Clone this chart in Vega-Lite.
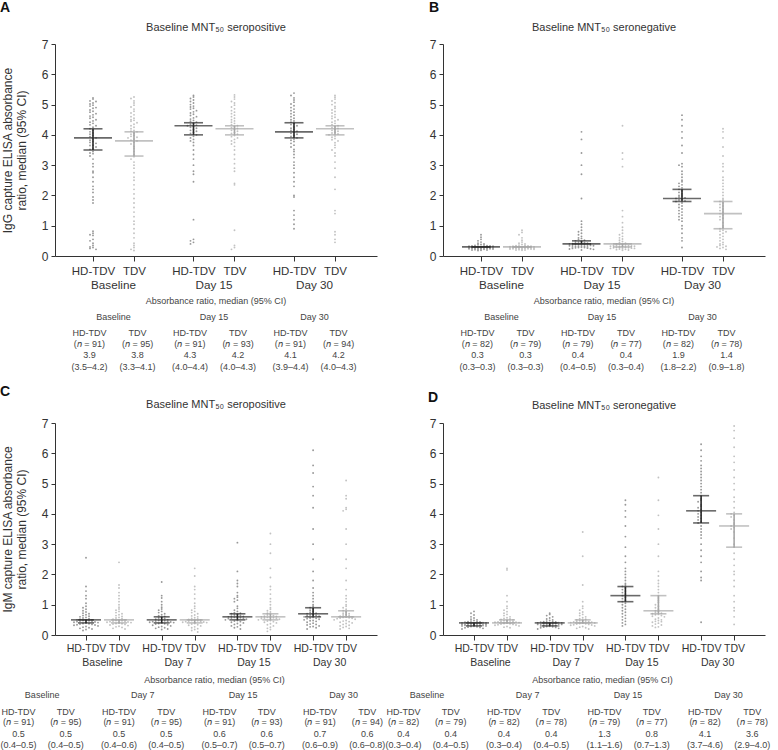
{
"$schema": "https://vega.github.io/schema/vega-lite/v6.json",
"padding": {"left": 0, "top": 1, "right": 0, "bottom": 0},
"config": {
  "font": "Liberation Sans",
  "view": {"stroke": null},
  "axis": {"grid": false, "domainColor": "#333", "tickColor": "#333", "labelColor": "#333", "titleColor": "#333", "labelFontSize": 12, "titleFontSize": 12, "titleFontWeight": "normal", "labelFont": "Liberation Sans", "titleFont": "Liberation Sans"},
  "axisY": {"tickCount": 7, "tickSize": 4, "labelPadding": 3},
  "circle": {"size": 3.5, "opacity": 1},
  "text": {"font": "Liberation Sans", "fontSize": 9, "color": "#444"}
},
"datasets": {
  "pts": [
    {"panel":"A","time":"Baseline","group":"HD-TDV","v":[5.22,5.18,5.12,5.1,5.05,5.02,4.98,4.95,4.9,4.88,4.82,4.78,4.75,4.7,4.66,4.62,4.58,4.55,4.5,4.46,4.42,4.38,4.33,4.3,4.25,4.2,4.15,4.1,4.06,4.02,3.98,3.94,3.9,3.86,3.82,3.78,3.75,3.72,3.66,3.65,3.6,3.55,3.52,3.45,3.4,3.38,3.3,3.2,3.05,2.95,2.8,2.75,2.6,2.45,2.3,2.2,2.1,1.95,1.85,1.75,0.82,0.75,0.7,0.68,0.55,0.5,0.42,0.35,0.3,0.28,0.25,0.22]},
    {"panel":"A","time":"Baseline","group":"TDV","v":[5.25,5.2,5.12,5.05,4.98,4.92,4.85,4.78,4.72,4.66,4.6,4.55,4.5,4.48,4.45,4.4,4.35,4.3,4.25,4.2,4.15,4.12,4.1,4.05,4.02,3.98,3.95,3.92,3.9,3.86,3.82,3.8,3.76,3.7,3.62,3.55,3.45,3.35,3.28,3.2,3.1,3.0,2.9,2.75,2.6,2.5,2.35,2.2,2.05,1.9,1.75,1.6,1.45,1.3,1.15,1.05,0.9,0.75,0.6,0.42,0.35,0.28,0.22,0.18]},
    {"panel":"A","time":"Day 15","group":"HD-TDV","v":[5.3,5.25,5.2,5.15,5.1,5.05,5.0,4.95,4.92,4.88,4.85,4.8,4.76,4.72,4.68,4.64,4.6,4.56,4.52,4.48,4.45,4.42,4.38,4.35,4.32,4.3,4.28,4.25,4.22,4.18,4.15,4.12,4.08,4.05,4.0,3.95,3.9,3.85,3.8,3.75,3.65,3.5,3.35,3.2,3.0,2.8,2.7,2.45,1.2,0.55,0.5,0.45,0.4]},
    {"panel":"A","time":"Day 15","group":"TDV","v":[5.32,5.25,5.18,5.1,5.05,4.98,4.92,4.86,4.8,4.75,4.7,4.65,4.6,4.55,4.5,4.46,4.42,4.38,4.34,4.3,4.27,4.24,4.21,4.18,4.15,4.12,4.08,4.05,4.02,3.98,3.94,3.9,3.85,3.8,3.75,3.7,3.62,3.5,3.35,3.2,3.05,2.9,2.8,2.4,2.35,0.85,0.35,0.28,0.22]},
    {"panel":"A","time":"Day 30","group":"HD-TDV","v":[5.38,5.3,5.22,5.15,5.08,5.02,4.96,4.9,4.85,4.8,4.75,4.7,4.65,4.6,4.55,4.5,4.46,4.42,4.38,4.34,4.3,4.26,4.22,4.18,4.15,4.12,4.08,4.05,4.02,3.98,3.95,3.9,3.86,3.82,3.78,3.72,3.66,3.6,3.52,3.45,3.35,3.25,3.1,3.0,2.9,2.75,2.6,2.45,2.3,2.0,1.95,1.5,1.35,1.2,1.05,0.9]},
    {"panel":"A","time":"Day 30","group":"TDV","v":[5.3,5.24,5.18,5.12,5.06,5.0,4.94,4.88,4.82,4.77,4.72,4.67,4.62,4.58,4.54,4.5,4.46,4.42,4.38,4.34,4.3,4.27,4.24,4.21,4.18,4.15,4.12,4.09,4.06,4.03,4.0,3.96,3.92,3.88,3.84,3.8,3.74,3.66,3.58,3.5,3.4,3.3,3.1,2.9,2.6,2.2,1.5,1.4,0.8,0.7,0.55,0.45]},
    {"panel":"B","time":"Baseline","group":"HD-TDV","v":[0.7,0.62,0.55,0.5,0.46,0.42,0.4,0.38,0.37,0.36,0.35,0.34,0.33,0.33,0.32,0.32,0.31,0.31,0.3,0.3,0.3,0.29,0.29,0.29,0.28,0.28,0.28,0.27,0.27,0.27,0.26,0.26,0.26,0.25,0.25,0.25,0.24,0.24,0.23,0.23,0.22,0.22,0.21,0.2,0.2,0.19,0.18]},
    {"panel":"B","time":"Baseline","group":"TDV","v":[0.85,0.78,0.7,0.6,0.52,0.46,0.42,0.4,0.38,0.36,0.35,0.34,0.33,0.32,0.32,0.31,0.3,0.3,0.3,0.29,0.29,0.28,0.28,0.28,0.27,0.27,0.27,0.26,0.26,0.25,0.25,0.25,0.24,0.24,0.23,0.23,0.22,0.22,0.21,0.2,0.2,0.19]},
    {"panel":"B","time":"Day 15","group":"HD-TDV","v":[4.1,3.85,3.4,3.0,2.7,1.9,1.15,1.05,0.95,0.85,0.8,0.75,0.7,0.65,0.6,0.58,0.55,0.52,0.5,0.48,0.46,0.44,0.43,0.42,0.41,0.4,0.4,0.39,0.38,0.38,0.37,0.36,0.36,0.35,0.34,0.34,0.33,0.32,0.32,0.31,0.3,0.3,0.29,0.28,0.28,0.27,0.26,0.25,0.24,0.23,0.22,0.2]},
    {"panel":"B","time":"Day 15","group":"TDV","v":[4.3,3.4,3.2,2.95,1.5,1.3,1.1,0.95,0.85,0.75,0.7,0.65,0.6,0.56,0.52,0.48,0.45,0.42,0.4,0.38,0.37,0.36,0.35,0.34,0.34,0.33,0.32,0.32,0.31,0.3,0.3,0.29,0.29,0.28,0.28,0.27,0.27,0.26,0.25,0.25,0.24,0.23,0.22,0.21,0.2,0.19]},
    {"panel":"B","time":"Day 30","group":"HD-TDV","v":[4.65,4.5,4.3,4.1,3.9,3.65,3.4,3.05,3.0,2.95,2.8,2.7,2.6,2.5,2.45,2.4,2.35,2.3,2.25,2.2,2.15,2.1,2.05,2.0,1.98,1.95,1.92,1.9,1.88,1.85,1.82,1.8,1.75,1.7,1.65,1.6,1.55,1.5,1.45,1.4,1.35,1.3,1.25,1.2,1.15,1.0,0.9,0.75,0.6,0.5,0.28]},
    {"panel":"B","time":"Day 30","group":"TDV","v":[4.2,4.1,3.9,3.6,3.3,3.05,2.95,2.8,2.6,2.5,2.4,2.3,2.2,2.1,2.0,1.9,1.85,1.8,1.75,1.7,1.65,1.6,1.55,1.5,1.45,1.4,1.35,1.3,1.25,1.2,1.1,1.0,0.95,0.9,0.85,0.82,0.8,0.75,0.7,0.65,0.6,0.55,0.5,0.45,0.4,0.38,0.35,0.32,0.3,0.28,0.25,0.22]},
    {"panel":"C","time":"Baseline","group":"HD-TDV","v":[2.55,1.6,1.45,1.3,1.2,1.05,0.95,0.9,0.85,0.8,0.76,0.72,0.7,0.67,0.64,0.62,0.6,0.58,0.56,0.54,0.52,0.5,0.5,0.49,0.48,0.47,0.46,0.45,0.44,0.43,0.42,0.41,0.4,0.39,0.38,0.37,0.36,0.35,0.34,0.33,0.32,0.3,0.28,0.26,0.24,0.22,0.2,0.18,0.15]},
    {"panel":"C","time":"Baseline","group":"TDV","v":[2.4,1.65,1.55,1.4,1.3,1.2,1.1,1.0,0.92,0.86,0.82,0.78,0.74,0.7,0.67,0.64,0.61,0.58,0.56,0.54,0.52,0.5,0.49,0.48,0.47,0.46,0.45,0.44,0.43,0.42,0.41,0.4,0.39,0.38,0.37,0.36,0.35,0.33,0.31,0.29,0.27,0.25,0.22,0.2]},
    {"panel":"C","time":"Day 7","group":"HD-TDV","v":[1.75,1.3,1.22,1.1,1.0,0.92,0.86,0.82,0.78,0.74,0.7,0.67,0.64,0.61,0.58,0.56,0.54,0.52,0.5,0.49,0.48,0.47,0.46,0.45,0.44,0.43,0.42,0.41,0.4,0.39,0.38,0.37,0.36,0.34,0.32,0.3,0.28,0.26,0.24,0.22,0.2,0.18]},
    {"panel":"C","time":"Day 7","group":"TDV","v":[2.2,1.95,1.6,1.5,1.35,1.2,1.05,0.95,0.88,0.82,0.78,0.74,0.7,0.66,0.63,0.6,0.57,0.55,0.53,0.51,0.5,0.49,0.48,0.47,0.46,0.45,0.44,0.43,0.42,0.41,0.4,0.38,0.36,0.34,0.32,0.3,0.27,0.24,0.21,0.18,0.15,0.1]},
    {"panel":"C","time":"Day 15","group":"HD-TDV","v":[3.05,2.1,1.8,1.7,1.6,1.4,1.3,1.25,1.2,1.15,1.1,0.95,0.88,0.82,0.78,0.74,0.72,0.7,0.68,0.66,0.64,0.62,0.61,0.6,0.59,0.58,0.57,0.56,0.55,0.54,0.52,0.5,0.48,0.46,0.44,0.42,0.4,0.38,0.35,0.32,0.3,0.27,0.24,0.2]},
    {"panel":"C","time":"Day 15","group":"TDV","v":[3.35,3.0,2.7,2.2,1.9,1.6,1.5,1.35,1.2,1.1,1.0,0.9,0.85,0.8,0.76,0.72,0.69,0.66,0.64,0.62,0.61,0.6,0.59,0.58,0.57,0.56,0.55,0.54,0.52,0.5,0.48,0.46,0.44,0.42,0.4,0.37,0.34,0.3,0.26,0.22,0.18,0.12]},
    {"panel":"C","time":"Day 30","group":"HD-TDV","v":[6.1,5.6,5.35,4.9,4.6,4.2,3.5,3.0,2.5,2.1,1.8,1.55,1.4,1.3,1.2,1.1,1.0,0.95,0.9,0.86,0.82,0.78,0.75,0.72,0.7,0.68,0.66,0.65,0.64,0.62,0.6,0.58,0.56,0.55,0.54,0.52,0.5,0.48,0.47,0.45,0.42,0.39,0.36,0.35,0.33,0.3,0.28,0.27,0.24,0.2]},
    {"panel":"C","time":"Day 30","group":"TDV","v":[5.1,4.6,4.5,4.2,4.15,4.1,3.5,3.0,2.5,2.2,1.8,1.5,1.3,1.2,1.1,1.0,0.95,0.9,0.85,0.8,0.76,0.72,0.7,0.68,0.66,0.64,0.62,0.6,0.59,0.58,0.57,0.56,0.55,0.54,0.52,0.5,0.48,0.46,0.44,0.42,0.4,0.38,0.35,0.32,0.3,0.28,0.25,0.22,0.2]},
    {"panel":"D","time":"Baseline","group":"HD-TDV","v":[0.78,0.72,0.66,0.6,0.56,0.52,0.5,0.48,0.46,0.45,0.44,0.43,0.42,0.41,0.4,0.4,0.39,0.38,0.38,0.37,0.37,0.36,0.36,0.35,0.35,0.34,0.34,0.33,0.33,0.32,0.32,0.31,0.3,0.3,0.29,0.28,0.27,0.26,0.25,0.24,0.22,0.2]},
    {"panel":"D","time":"Baseline","group":"TDV","v":[2.2,2.15,1.3,1.1,0.95,0.88,0.82,0.77,0.72,0.68,0.64,0.6,0.57,0.55,0.53,0.51,0.5,0.48,0.47,0.46,0.45,0.44,0.43,0.42,0.42,0.41,0.4,0.4,0.39,0.38,0.37,0.36,0.35,0.34,0.33,0.32,0.3,0.28,0.26,0.24]},
    {"panel":"D","time":"Day 7","group":"HD-TDV","v":[0.72,0.68,0.64,0.6,0.56,0.53,0.5,0.48,0.46,0.45,0.44,0.43,0.42,0.41,0.4,0.4,0.39,0.38,0.38,0.37,0.37,0.36,0.36,0.35,0.35,0.34,0.34,0.33,0.32,0.31,0.3,0.3,0.29,0.28,0.27,0.26,0.25,0.24,0.22,0.2]},
    {"panel":"D","time":"Day 7","group":"TDV","v":[3.4,2.6,1.65,1.1,0.95,0.88,0.82,0.76,0.72,0.68,0.64,0.6,0.57,0.54,0.52,0.5,0.48,0.47,0.46,0.45,0.44,0.43,0.42,0.41,0.4,0.4,0.39,0.38,0.37,0.36,0.35,0.34,0.33,0.32,0.3,0.28,0.26,0.24,0.22,0.2]},
    {"panel":"D","time":"Day 15","group":"HD-TDV","v":[4.45,4.3,4.1,3.9,3.6,3.25,2.9,2.6,2.4,2.2,2.1,2.0,1.9,1.8,1.7,1.65,1.6,1.55,1.5,1.45,1.4,1.35,1.3,1.25,1.2,1.15,1.1,1.05,1.0,0.95,0.9,0.85,0.8,0.75,0.7,0.65,0.6,0.55,0.5,0.45,0.4,0.35,0.3]},
    {"panel":"D","time":"Day 15","group":"TDV","v":[5.2,4.45,3.95,3.5,3.0,2.6,2.1,1.95,1.8,1.7,1.6,1.5,1.4,1.3,1.22,1.15,1.08,1.0,0.95,0.9,0.85,0.8,0.78,0.75,0.72,0.7,0.68,0.67,0.64,0.62,0.6,0.56,0.52,0.5,0.48,0.45,0.44,0.42,0.39,0.36,0.33,0.3,0.27,0.25]},
    {"panel":"D","time":"Day 30","group":"HD-TDV","v":[6.3,6.1,5.9,5.75,5.6,5.5,5.4,5.3,5.2,5.1,5.0,4.9,4.8,4.7,4.6,4.5,4.45,4.4,4.3,4.25,4.2,4.15,4.1,4.05,4.0,3.95,3.9,3.85,3.8,3.75,3.7,3.6,3.5,3.4,3.3,3.2,3.0,2.8,2.6,2.4,2.1,1.9,1.8,0.42]},
    {"panel":"D","time":"Day 30","group":"TDV","v":[6.9,6.75,6.5,6.2,5.9,5.7,5.45,5.2,5.0,4.8,4.55,4.4,4.2,4.05,4.0,3.95,3.9,3.8,3.7,3.65,3.6,3.55,3.5,3.4,3.2,3.0,2.9,2.7,2.5,2.3,2.1,2.0,1.8,1.6,1.3,1.1,0.9,0.8,0.6,0.35]}
  ],
  "sum": [
    {"panel":"A","time":"Baseline","group":"HD-TDV","n":91,"med":3.9,"lo":3.5,"hi":4.2},
    {"panel":"A","time":"Baseline","group":"TDV","n":95,"med":3.8,"lo":3.3,"hi":4.1},
    {"panel":"A","time":"Day 15","group":"HD-TDV","n":91,"med":4.3,"lo":4.0,"hi":4.4},
    {"panel":"A","time":"Day 15","group":"TDV","n":93,"med":4.2,"lo":4.0,"hi":4.3},
    {"panel":"A","time":"Day 30","group":"HD-TDV","n":91,"med":4.1,"lo":3.9,"hi":4.4},
    {"panel":"A","time":"Day 30","group":"TDV","n":94,"med":4.2,"lo":4.0,"hi":4.3},
    {"panel":"B","time":"Baseline","group":"HD-TDV","n":82,"med":0.3,"lo":0.3,"hi":0.3},
    {"panel":"B","time":"Baseline","group":"TDV","n":79,"med":0.3,"lo":0.3,"hi":0.3},
    {"panel":"B","time":"Day 15","group":"HD-TDV","n":79,"med":0.4,"lo":0.4,"hi":0.5},
    {"panel":"B","time":"Day 15","group":"TDV","n":77,"med":0.4,"lo":0.3,"hi":0.4},
    {"panel":"B","time":"Day 30","group":"HD-TDV","n":82,"med":1.9,"lo":1.8,"hi":2.2},
    {"panel":"B","time":"Day 30","group":"TDV","n":78,"med":1.4,"lo":0.9,"hi":1.8},
    {"panel":"C","time":"Baseline","group":"HD-TDV","n":91,"med":0.5,"lo":0.4,"hi":0.5},
    {"panel":"C","time":"Baseline","group":"TDV","n":95,"med":0.5,"lo":0.4,"hi":0.5},
    {"panel":"C","time":"Day 7","group":"HD-TDV","n":91,"med":0.5,"lo":0.4,"hi":0.6},
    {"panel":"C","time":"Day 7","group":"TDV","n":95,"med":0.5,"lo":0.4,"hi":0.5},
    {"panel":"C","time":"Day 15","group":"HD-TDV","n":91,"med":0.6,"lo":0.5,"hi":0.7},
    {"panel":"C","time":"Day 15","group":"TDV","n":93,"med":0.6,"lo":0.5,"hi":0.7},
    {"panel":"C","time":"Day 30","group":"HD-TDV","n":91,"med":0.7,"lo":0.6,"hi":0.9},
    {"panel":"C","time":"Day 30","group":"TDV","n":94,"med":0.6,"lo":0.6,"hi":0.8},
    {"panel":"D","time":"Baseline","group":"HD-TDV","n":82,"med":0.4,"lo":0.3,"hi":0.4},
    {"panel":"D","time":"Baseline","group":"TDV","n":79,"med":0.4,"lo":0.4,"hi":0.5},
    {"panel":"D","time":"Day 7","group":"HD-TDV","n":82,"med":0.4,"lo":0.3,"hi":0.4},
    {"panel":"D","time":"Day 7","group":"TDV","n":78,"med":0.4,"lo":0.4,"hi":0.5},
    {"panel":"D","time":"Day 15","group":"HD-TDV","n":79,"med":1.3,"lo":1.1,"hi":1.6},
    {"panel":"D","time":"Day 15","group":"TDV","n":77,"med":0.8,"lo":0.7,"hi":1.3},
    {"panel":"D","time":"Day 30","group":"HD-TDV","n":82,"med":4.1,"lo":3.7,"hi":4.6},
    {"panel":"D","time":"Day 30","group":"TDV","n":78,"med":3.6,"lo":2.9,"hi":4.0}
  ],
  "labels": [
    {"panel":"A","letter":"A","title":"Baseline MNT₅₀ seropositive"},
    {"panel":"B","letter":"B","title":"Baseline MNT₅₀ seronegative"},
    {"panel":"C","letter":"C","title":"Baseline MNT₅₀ seropositive"},
    {"panel":"D","letter":"D","title":"Baseline MNT₅₀ seronegative"}
  ]
},
"data": {"name": "pts"},
"transform": [
  {"flatten": ["v"]},
  {"calculate": "datum.panel == 'A' || datum.panel == 'B'", "as": "ab"},
  {"calculate": "indexof(datum.ab ? ['Baseline','Day 15','Day 30'] : ['Baseline','Day 7','Day 15','Day 30'], datum.time)", "as": "t"},
  {"calculate": "datum.ab ? 100.5 : 75.7", "as": "u"},
  {"calculate": "datum.ab ? 0.204 : 0.218", "as": "h"},
  {"calculate": "floor(datum.v * 10)", "as": "b"},
  {"window": [{"op": "row_number", "as": "rn"}], "groupby": ["panel", "time", "group", "b"], "sort": [{"field": "v", "order": "descending"}]},
  {"calculate": "(datum.rn - 1) % 9", "as": "j"},
  {"calculate": "datum.t + (datum.group == 'HD-TDV' ? -datum.h : datum.h) + (datum.j % 2 == 1 ? -1 : 1) * ceil(datum.j / 2) * 3 / datum.u", "as": "pos"}
],
"columns": 2,
"bounds": "flush",
"spacing": {"row": 0, "column": 66},
"concat": [
  {
    "width": 322, "height": 212,
    "layer": [
      {"transform": [{"filter": "datum.panel == 'A'"}],
       "mark": {"type": "circle"},
       "encoding": {
         "x": {"field": "pos", "type": "quantitative", "title": null, "scale": {"domain": [-0.582, 2.622], "nice": false, "zero": false},
               "axis": {"values": [-0.204, 0.204, 0.796, 1.204, 1.796, 2.204], "labelExpr": "datum.value - round(datum.value) < 0 ? 'HD-TDV' : 'TDV'", "labelFontSize": 11.5, "tickSize": 5, "labelPadding": 4, "labelOverlap": false, "labelFlush": false, "labelBound": false}},
         "y": {"field": "v", "type": "quantitative", "title": ["IgG capture ELISA absorbance", "ratio, median (95% CI)"], "scale": {"domain": [0, 7], "nice": false},
               "axis": {"titlePadding": 13}},
         "color": {"condition": {"test": "datum.group == 'HD-TDV'", "value": "#989898"}, "value": "#c2c2c2"}
       }},
      {"data": {"name": "sum"},
       "transform": [{"filter": "datum.panel == 'A'"}, {"calculate": "indexof(['Baseline','Day 15','Day 30'], datum.time) + (datum.group == 'HD-TDV' ? -0.204 : 0.204)", "as": "pos"}],
       "encoding": {"x": {"field": "pos", "type": "quantitative"},
                    "color": {"condition": {"test": "datum.group == 'HD-TDV'", "value": "#2a2a2a"}, "value": "#a6a6a6"}},
       "layer": [
         {"mark": {"type": "rule", "strokeWidth": 1.6}, "encoding": {"y": {"field": "lo", "type": "quantitative"}, "y2": {"field": "hi"}}},
         {"mark": {"type": "tick", "orient": "horizontal", "size": 38, "thickness": 1.6}, "encoding": {"y": {"field": "med", "type": "quantitative"}}},
         {"mark": {"type": "tick", "orient": "horizontal", "size": 19, "thickness": 1.6}, "encoding": {"y": {"field": "lo", "type": "quantitative"}}},
         {"mark": {"type": "tick", "orient": "horizontal", "size": 19, "thickness": 1.6}, "encoding": {"y": {"field": "hi", "type": "quantitative"}}}
       ]},
      {"data": {"name": "labels"}, "transform": [{"filter": "datum.panel == 'A'"}],
       "layer": [
         {"mark": {"type": "text", "align": "left", "baseline": "middle", "dx": -55, "dy": -36, "fontSize": 14, "fontWeight": "bold", "color": "#111"},
          "encoding": {"x": {"datum": -0.582, "type": "quantitative"}, "y": {"datum": 7, "type": "quantitative"}, "text": {"field": "letter"}}},
         {"mark": {"type": "text", "align": "center", "baseline": "middle", "dy": -16, "fontSize": 11, "color": "#333"},
          "encoding": {"x": {"datum": 1.02, "type": "quantitative"}, "y": {"datum": 7, "type": "quantitative"}, "text": {"field": "title"}}}
       ]}
    ]
  },
  {
    "width": 322, "height": 212,
    "layer": [
      {"transform": [{"filter": "datum.panel == 'B'"}],
       "mark": {"type": "circle"},
       "encoding": {
         "x": {"field": "pos", "type": "quantitative", "title": null, "scale": {"domain": [-0.582, 2.622], "nice": false, "zero": false},
               "axis": {"values": [-0.204, 0.204, 0.796, 1.204, 1.796, 2.204], "labelExpr": "datum.value - round(datum.value) < 0 ? 'HD-TDV' : 'TDV'", "labelFontSize": 11.5, "tickSize": 5, "labelPadding": 4, "labelOverlap": false, "labelFlush": false, "labelBound": false}},
         "y": {"field": "v", "type": "quantitative", "title": null, "scale": {"domain": [0, 7], "nice": false}},
         "color": {"condition": {"test": "datum.group == 'HD-TDV'", "value": "#989898"}, "value": "#c2c2c2"}
       }},
      {"data": {"name": "sum"},
       "transform": [{"filter": "datum.panel == 'B'"}, {"calculate": "indexof(['Baseline','Day 15','Day 30'], datum.time) + (datum.group == 'HD-TDV' ? -0.204 : 0.204)", "as": "pos"}],
       "encoding": {"x": {"field": "pos", "type": "quantitative"},
                    "color": {"condition": {"test": "datum.group == 'HD-TDV'", "value": "#2a2a2a"}, "value": "#a6a6a6"}},
       "layer": [
         {"mark": {"type": "rule", "strokeWidth": 1.6}, "encoding": {"y": {"field": "lo", "type": "quantitative"}, "y2": {"field": "hi"}}},
         {"mark": {"type": "tick", "orient": "horizontal", "size": 38, "thickness": 1.6}, "encoding": {"y": {"field": "med", "type": "quantitative"}}},
         {"mark": {"type": "tick", "orient": "horizontal", "size": 19, "thickness": 1.6}, "encoding": {"y": {"field": "lo", "type": "quantitative"}}},
         {"mark": {"type": "tick", "orient": "horizontal", "size": 19, "thickness": 1.6}, "encoding": {"y": {"field": "hi", "type": "quantitative"}}}
       ]},
      {"data": {"name": "labels"}, "transform": [{"filter": "datum.panel == 'B'"}],
       "layer": [
         {"mark": {"type": "text", "align": "left", "baseline": "middle", "dx": -14, "dy": -36, "fontSize": 14, "fontWeight": "bold", "color": "#111"},
          "encoding": {"x": {"datum": -0.582, "type": "quantitative"}, "y": {"datum": 7, "type": "quantitative"}, "text": {"field": "letter"}}},
         {"mark": {"type": "text", "align": "center", "baseline": "middle", "dy": -16, "fontSize": 11, "color": "#333"},
          "encoding": {"x": {"datum": 1.02, "type": "quantitative"}, "y": {"datum": 7, "type": "quantitative"}, "text": {"field": "title"}}}
       ]}
    ]
  },
  {
    "width": 322, "height": 167,
    "data": {"name": "sum"},
    "transform": [
      {"filter": "datum.panel == 'A'"},
      {"calculate": "indexof(['Baseline','Day 15','Day 30'], datum.time)", "as": "t"},
      {"calculate": "datum.t + (datum.group == 'HD-TDV' ? -0.239 : 0.239)", "as": "tp"},
      {"calculate": "'(𝑛 = ' + datum.n + ')'", "as": "nTxt"},
      {"calculate": "format(datum.med, '.1f')", "as": "mTxt"},
      {"calculate": "'(' + format(datum.lo, '.1f') + '–' + format(datum.hi, '.1f') + ')'", "as": "ciTxt"}
    ],
    "layer": [
      {"transform": [{"filter": "datum.group == 'HD-TDV'"}], "mark": {"type": "text", "fontSize": 11.7, "color": "#333"},
       "encoding": {"x": {"field": "t", "type": "quantitative", "scale": {"domain": [-0.582, 2.622], "nice": false, "zero": false}, "axis": null},
                    "y": {"datum": 2.6, "type": "quantitative", "scale": {"domain": [0, 15], "reverse": true, "nice": false, "zero": false}, "axis": null},
                    "text": {"field": "time"}}},
      {"transform": [{"filter": "datum.group == 'HD-TDV' && datum.t == 0"}], "mark": {"type": "text"},
       "encoding": {"x": {"datum": 1.02, "type": "quantitative", "scale": {"domain": [-0.582, 2.622], "nice": false, "zero": false}, "axis": null},
                    "y": {"datum": 4.05, "type": "quantitative", "scale": {"domain": [0, 15], "reverse": true, "nice": false, "zero": false}, "axis": null},
                    "text": {"value": "Absorbance ratio, median  (95% CI)"}}},
      {"transform": [{"filter": "datum.group == 'HD-TDV'"}], "mark": {"type": "text"},
       "encoding": {"x": {"field": "t", "type": "quantitative", "scale": {"domain": [-0.582, 2.622], "nice": false, "zero": false}, "axis": null},
                    "y": {"datum": 5.45, "type": "quantitative", "scale": {"domain": [0, 15], "reverse": true, "nice": false, "zero": false}, "axis": null},
                    "text": {"field": "time"}}},
      {"mark": {"type": "text"},
       "encoding": {"x": {"field": "tp", "type": "quantitative", "scale": {"domain": [-0.582, 2.622], "nice": false, "zero": false}, "axis": null},
                    "y": {"datum": 6.9, "type": "quantitative", "scale": {"domain": [0, 15], "reverse": true, "nice": false, "zero": false}, "axis": null},
                    "text": {"field": "group"}}},
      {"mark": {"type": "text"},
       "encoding": {"x": {"field": "tp", "type": "quantitative", "scale": {"domain": [-0.582, 2.622], "nice": false, "zero": false}, "axis": null},
                    "y": {"datum": 7.9, "type": "quantitative", "scale": {"domain": [0, 15], "reverse": true, "nice": false, "zero": false}, "axis": null},
                    "text": {"field": "nTxt"}}},
      {"mark": {"type": "text"},
       "encoding": {"x": {"field": "tp", "type": "quantitative", "scale": {"domain": [-0.582, 2.622], "nice": false, "zero": false}, "axis": null},
                    "y": {"datum": 8.9, "type": "quantitative", "scale": {"domain": [0, 15], "reverse": true, "nice": false, "zero": false}, "axis": null},
                    "text": {"field": "mTxt"}}},
      {"mark": {"type": "text"},
       "encoding": {"x": {"field": "tp", "type": "quantitative", "scale": {"domain": [-0.582, 2.622], "nice": false, "zero": false}, "axis": null},
                    "y": {"datum": 9.95, "type": "quantitative", "scale": {"domain": [0, 15], "reverse": true, "nice": false, "zero": false}, "axis": null},
                    "text": {"field": "ciTxt"}}}
    ]
  },
  {
    "width": 322, "height": 167,
    "data": {"name": "sum"},
    "transform": [
      {"filter": "datum.panel == 'B'"},
      {"calculate": "indexof(['Baseline','Day 15','Day 30'], datum.time)", "as": "t"},
      {"calculate": "datum.t + (datum.group == 'HD-TDV' ? -0.239 : 0.239)", "as": "tp"},
      {"calculate": "'(𝑛 = ' + datum.n + ')'", "as": "nTxt"},
      {"calculate": "format(datum.med, '.1f')", "as": "mTxt"},
      {"calculate": "'(' + format(datum.lo, '.1f') + '–' + format(datum.hi, '.1f') + ')'", "as": "ciTxt"}
    ],
    "layer": [
      {"transform": [{"filter": "datum.group == 'HD-TDV'"}], "mark": {"type": "text", "fontSize": 11.7, "color": "#333"},
       "encoding": {"x": {"field": "t", "type": "quantitative", "scale": {"domain": [-0.582, 2.622], "nice": false, "zero": false}, "axis": null},
                    "y": {"datum": 2.6, "type": "quantitative", "scale": {"domain": [0, 15], "reverse": true, "nice": false, "zero": false}, "axis": null},
                    "text": {"field": "time"}}},
      {"transform": [{"filter": "datum.group == 'HD-TDV' && datum.t == 0"}], "mark": {"type": "text"},
       "encoding": {"x": {"datum": 1.02, "type": "quantitative", "scale": {"domain": [-0.582, 2.622], "nice": false, "zero": false}, "axis": null},
                    "y": {"datum": 4.05, "type": "quantitative", "scale": {"domain": [0, 15], "reverse": true, "nice": false, "zero": false}, "axis": null},
                    "text": {"value": "Absorbance ratio, median  (95% CI)"}}},
      {"transform": [{"filter": "datum.group == 'HD-TDV'"}], "mark": {"type": "text"},
       "encoding": {"x": {"field": "t", "type": "quantitative", "scale": {"domain": [-0.582, 2.622], "nice": false, "zero": false}, "axis": null},
                    "y": {"datum": 5.45, "type": "quantitative", "scale": {"domain": [0, 15], "reverse": true, "nice": false, "zero": false}, "axis": null},
                    "text": {"field": "time"}}},
      {"mark": {"type": "text"},
       "encoding": {"x": {"field": "tp", "type": "quantitative", "scale": {"domain": [-0.582, 2.622], "nice": false, "zero": false}, "axis": null},
                    "y": {"datum": 6.9, "type": "quantitative", "scale": {"domain": [0, 15], "reverse": true, "nice": false, "zero": false}, "axis": null},
                    "text": {"field": "group"}}},
      {"mark": {"type": "text"},
       "encoding": {"x": {"field": "tp", "type": "quantitative", "scale": {"domain": [-0.582, 2.622], "nice": false, "zero": false}, "axis": null},
                    "y": {"datum": 7.9, "type": "quantitative", "scale": {"domain": [0, 15], "reverse": true, "nice": false, "zero": false}, "axis": null},
                    "text": {"field": "nTxt"}}},
      {"mark": {"type": "text"},
       "encoding": {"x": {"field": "tp", "type": "quantitative", "scale": {"domain": [-0.582, 2.622], "nice": false, "zero": false}, "axis": null},
                    "y": {"datum": 8.9, "type": "quantitative", "scale": {"domain": [0, 15], "reverse": true, "nice": false, "zero": false}, "axis": null},
                    "text": {"field": "mTxt"}}},
      {"mark": {"type": "text"},
       "encoding": {"x": {"field": "tp", "type": "quantitative", "scale": {"domain": [-0.582, 2.622], "nice": false, "zero": false}, "axis": null},
                    "y": {"datum": 9.95, "type": "quantitative", "scale": {"domain": [0, 15], "reverse": true, "nice": false, "zero": false}, "axis": null},
                    "text": {"field": "ciTxt"}}}
    ]
  },
  {
    "width": 322, "height": 212,
    "layer": [
      {"transform": [{"filter": "datum.panel == 'C'"}],
       "mark": {"type": "circle"},
       "encoding": {
         "x": {"field": "pos", "type": "quantitative", "title": null, "scale": {"domain": [-0.6275, 3.626], "nice": false, "zero": false},
               "axis": {"values": [-0.218, 0.218, 0.782, 1.218, 1.782, 2.218, 2.782, 3.218], "labelExpr": "datum.value - round(datum.value) < 0 ? 'HD-TDV' : 'TDV'", "labelFontSize": 10.5, "tickSize": 5, "labelPadding": 3, "labelOverlap": false, "labelFlush": false, "labelBound": false}},
         "y": {"field": "v", "type": "quantitative", "title": ["IgM capture ELISA absorbance", "ratio, median (95% CI)"], "scale": {"domain": [0, 7], "nice": false},
               "axis": {"titlePadding": 13}},
         "color": {"condition": {"test": "datum.group == 'HD-TDV'", "value": "#989898"}, "value": "#c2c2c2"}
       }},
      {"data": {"name": "sum"},
       "transform": [{"filter": "datum.panel == 'C'"}, {"calculate": "indexof(['Baseline','Day 7','Day 15','Day 30'], datum.time) + (datum.group == 'HD-TDV' ? -0.218 : 0.218)", "as": "pos"}],
       "encoding": {"x": {"field": "pos", "type": "quantitative"},
                    "color": {"condition": {"test": "datum.group == 'HD-TDV'", "value": "#2a2a2a"}, "value": "#a6a6a6"}},
       "layer": [
         {"mark": {"type": "rule", "strokeWidth": 1.6}, "encoding": {"y": {"field": "lo", "type": "quantitative"}, "y2": {"field": "hi"}}},
         {"mark": {"type": "tick", "orient": "horizontal", "size": 30, "thickness": 1.6}, "encoding": {"y": {"field": "med", "type": "quantitative"}}},
         {"mark": {"type": "tick", "orient": "horizontal", "size": 16, "thickness": 1.6}, "encoding": {"y": {"field": "lo", "type": "quantitative"}}},
         {"mark": {"type": "tick", "orient": "horizontal", "size": 16, "thickness": 1.6}, "encoding": {"y": {"field": "hi", "type": "quantitative"}}}
       ]},
      {"data": {"name": "labels"}, "transform": [{"filter": "datum.panel == 'C'"}],
       "layer": [
         {"mark": {"type": "text", "align": "left", "baseline": "middle", "dx": -55, "dy": -31, "fontSize": 14, "fontWeight": "bold", "color": "#111"},
          "encoding": {"x": {"datum": -0.6275, "type": "quantitative"}, "y": {"datum": 7, "type": "quantitative"}, "text": {"field": "letter"}}},
         {"mark": {"type": "text", "align": "center", "baseline": "middle", "dy": -18, "fontSize": 11, "color": "#333"},
          "encoding": {"x": {"datum": 1.499, "type": "quantitative"}, "y": {"datum": 7, "type": "quantitative"}, "text": {"field": "title"}}}
       ]}
    ]
  },
  {
    "width": 322, "height": 212,
    "layer": [
      {"transform": [{"filter": "datum.panel == 'D'"}],
       "mark": {"type": "circle"},
       "encoding": {
         "x": {"field": "pos", "type": "quantitative", "title": null, "scale": {"domain": [-0.6275, 3.626], "nice": false, "zero": false},
               "axis": {"values": [-0.218, 0.218, 0.782, 1.218, 1.782, 2.218, 2.782, 3.218], "labelExpr": "datum.value - round(datum.value) < 0 ? 'HD-TDV' : 'TDV'", "labelFontSize": 10.5, "tickSize": 5, "labelPadding": 3, "labelOverlap": false, "labelFlush": false, "labelBound": false}},
         "y": {"field": "v", "type": "quantitative", "title": null, "scale": {"domain": [0, 7], "nice": false}},
         "color": {"condition": {"test": "datum.group == 'HD-TDV'", "value": "#989898"}, "value": "#c2c2c2"}
       }},
      {"data": {"name": "sum"},
       "transform": [{"filter": "datum.panel == 'D'"}, {"calculate": "indexof(['Baseline','Day 7','Day 15','Day 30'], datum.time) + (datum.group == 'HD-TDV' ? -0.218 : 0.218)", "as": "pos"}],
       "encoding": {"x": {"field": "pos", "type": "quantitative"},
                    "color": {"condition": {"test": "datum.group == 'HD-TDV'", "value": "#2a2a2a"}, "value": "#a6a6a6"}},
       "layer": [
         {"mark": {"type": "rule", "strokeWidth": 1.6}, "encoding": {"y": {"field": "lo", "type": "quantitative"}, "y2": {"field": "hi"}}},
         {"mark": {"type": "tick", "orient": "horizontal", "size": 30, "thickness": 1.6}, "encoding": {"y": {"field": "med", "type": "quantitative"}}},
         {"mark": {"type": "tick", "orient": "horizontal", "size": 16, "thickness": 1.6}, "encoding": {"y": {"field": "lo", "type": "quantitative"}}},
         {"mark": {"type": "tick", "orient": "horizontal", "size": 16, "thickness": 1.6}, "encoding": {"y": {"field": "hi", "type": "quantitative"}}}
       ]},
      {"data": {"name": "labels"}, "transform": [{"filter": "datum.panel == 'D'"}],
       "layer": [
         {"mark": {"type": "text", "align": "left", "baseline": "middle", "dx": -15, "dy": -25, "fontSize": 14, "fontWeight": "bold", "color": "#111"},
          "encoding": {"x": {"datum": -0.6275, "type": "quantitative"}, "y": {"datum": 7, "type": "quantitative"}, "text": {"field": "letter"}}},
         {"mark": {"type": "text", "align": "center", "baseline": "middle", "dy": -17, "fontSize": 11, "color": "#333"},
          "encoding": {"x": {"datum": 1.499, "type": "quantitative"}, "y": {"datum": 7, "type": "quantitative"}, "text": {"field": "title"}}}
       ]}
    ]
  },
  {
    "width": 322, "height": 115,
    "data": {"name": "sum"},
    "transform": [
      {"filter": "datum.panel == 'C'"},
      {"calculate": "indexof(['Baseline','Day 7','Day 15','Day 30'], datum.time)", "as": "t"},
      {"calculate": "datum.t + (datum.group == 'HD-TDV' ? -0.235 : 0.235)", "as": "tp"},
      {"calculate": "'(𝑛 = ' + datum.n + ')'", "as": "nTxt"},
      {"calculate": "format(datum.med, '.1f')", "as": "mTxt"},
      {"calculate": "'(' + format(datum.lo, '.1f') + '–' + format(datum.hi, '.1f') + ')'", "as": "ciTxt"}
    ],
    "resolve": {"scale": {"x": "independent"}},
    "layer": [
      {"transform": [{"filter": "datum.group == 'HD-TDV'"}], "mark": {"type": "text", "fontSize": 10.5, "color": "#333"},
       "encoding": {"x": {"field": "t", "type": "quantitative", "scale": {"domain": [-0.6275, 3.626], "nice": false, "zero": false}, "axis": null},
                    "y": {"datum": 2.5, "type": "quantitative", "scale": {"domain": [0, 10.33], "reverse": true, "nice": false, "zero": false}, "axis": null},
                    "text": {"field": "time"}}},
      {"transform": [{"filter": "datum.group == 'HD-TDV' && datum.t == 0"}], "mark": {"type": "text"},
       "encoding": {"x": {"datum": 1.715, "type": "quantitative", "scale": {"domain": [0.128, 3.332], "nice": false, "zero": false}, "axis": null},
                    "y": {"datum": 4.05, "type": "quantitative", "scale": {"domain": [0, 10.33], "reverse": true, "nice": false, "zero": false}, "axis": null},
                    "text": {"value": "Absorbance ratio, median  (95% CI)"}}},
      {"transform": [{"filter": "datum.group == 'HD-TDV'"}], "mark": {"type": "text"},
       "encoding": {"x": {"field": "t", "type": "quantitative", "scale": {"domain": [0.128, 3.332], "nice": false, "zero": false}, "axis": null},
                    "y": {"datum": 5.4, "type": "quantitative", "scale": {"domain": [0, 10.33], "reverse": true, "nice": false, "zero": false}, "axis": null},
                    "text": {"field": "time"}}},
      {"mark": {"type": "text"},
       "encoding": {"x": {"field": "tp", "type": "quantitative", "scale": {"domain": [0.128, 3.332], "nice": false, "zero": false}, "axis": null},
                    "y": {"datum": 6.9, "type": "quantitative", "scale": {"domain": [0, 10.33], "reverse": true, "nice": false, "zero": false}, "axis": null},
                    "text": {"field": "group"}}},
      {"mark": {"type": "text"},
       "encoding": {"x": {"field": "tp", "type": "quantitative", "scale": {"domain": [0.128, 3.332], "nice": false, "zero": false}, "axis": null},
                    "y": {"datum": 7.85, "type": "quantitative", "scale": {"domain": [0, 10.33], "reverse": true, "nice": false, "zero": false}, "axis": null},
                    "text": {"field": "nTxt"}}},
      {"mark": {"type": "text"},
       "encoding": {"x": {"field": "tp", "type": "quantitative", "scale": {"domain": [0.128, 3.332], "nice": false, "zero": false}, "axis": null},
                    "y": {"datum": 8.85, "type": "quantitative", "scale": {"domain": [0, 10.33], "reverse": true, "nice": false, "zero": false}, "axis": null},
                    "text": {"field": "mTxt"}}},
      {"mark": {"type": "text"},
       "encoding": {"x": {"field": "tp", "type": "quantitative", "scale": {"domain": [0.128, 3.332], "nice": false, "zero": false}, "axis": null},
                    "y": {"datum": 9.9, "type": "quantitative", "scale": {"domain": [0, 10.33], "reverse": true, "nice": false, "zero": false}, "axis": null},
                    "text": {"field": "ciTxt"}}}
    ]
  },
  {
    "width": 322, "height": 115,
    "data": {"name": "sum"},
    "transform": [
      {"filter": "datum.panel == 'D'"},
      {"calculate": "indexof(['Baseline','Day 7','Day 15','Day 30'], datum.time)", "as": "t"},
      {"calculate": "datum.t + (datum.group == 'HD-TDV' ? -0.235 : 0.235)", "as": "tp"},
      {"calculate": "'(𝑛 = ' + datum.n + ')'", "as": "nTxt"},
      {"calculate": "format(datum.med, '.1f')", "as": "mTxt"},
      {"calculate": "'(' + format(datum.lo, '.1f') + '–' + format(datum.hi, '.1f') + ')'", "as": "ciTxt"}
    ],
    "resolve": {"scale": {"x": "independent"}},
    "layer": [
      {"transform": [{"filter": "datum.group == 'HD-TDV'"}], "mark": {"type": "text", "fontSize": 10.5, "color": "#333"},
       "encoding": {"x": {"field": "t", "type": "quantitative", "scale": {"domain": [-0.6275, 3.626], "nice": false, "zero": false}, "axis": null},
                    "y": {"datum": 2.5, "type": "quantitative", "scale": {"domain": [0, 10.33], "reverse": true, "nice": false, "zero": false}, "axis": null},
                    "text": {"field": "time"}}},
      {"transform": [{"filter": "datum.group == 'HD-TDV' && datum.t == 0"}], "mark": {"type": "text"},
       "encoding": {"x": {"datum": 1.745, "type": "quantitative", "scale": {"domain": [0.158, 3.362], "nice": false, "zero": false}, "axis": null},
                    "y": {"datum": 4.05, "type": "quantitative", "scale": {"domain": [0, 10.33], "reverse": true, "nice": false, "zero": false}, "axis": null},
                    "text": {"value": "Absorbance ratio, median  (95% CI)"}}},
      {"transform": [{"filter": "datum.group == 'HD-TDV'"}], "mark": {"type": "text"},
       "encoding": {"x": {"field": "t", "type": "quantitative", "scale": {"domain": [0.158, 3.362], "nice": false, "zero": false}, "axis": null},
                    "y": {"datum": 5.4, "type": "quantitative", "scale": {"domain": [0, 10.33], "reverse": true, "nice": false, "zero": false}, "axis": null},
                    "text": {"field": "time"}}},
      {"mark": {"type": "text"},
       "encoding": {"x": {"field": "tp", "type": "quantitative", "scale": {"domain": [0.158, 3.362], "nice": false, "zero": false}, "axis": null},
                    "y": {"datum": 6.9, "type": "quantitative", "scale": {"domain": [0, 10.33], "reverse": true, "nice": false, "zero": false}, "axis": null},
                    "text": {"field": "group"}}},
      {"mark": {"type": "text"},
       "encoding": {"x": {"field": "tp", "type": "quantitative", "scale": {"domain": [0.158, 3.362], "nice": false, "zero": false}, "axis": null},
                    "y": {"datum": 7.85, "type": "quantitative", "scale": {"domain": [0, 10.33], "reverse": true, "nice": false, "zero": false}, "axis": null},
                    "text": {"field": "nTxt"}}},
      {"mark": {"type": "text"},
       "encoding": {"x": {"field": "tp", "type": "quantitative", "scale": {"domain": [0.158, 3.362], "nice": false, "zero": false}, "axis": null},
                    "y": {"datum": 8.85, "type": "quantitative", "scale": {"domain": [0, 10.33], "reverse": true, "nice": false, "zero": false}, "axis": null},
                    "text": {"field": "mTxt"}}},
      {"mark": {"type": "text"},
       "encoding": {"x": {"field": "tp", "type": "quantitative", "scale": {"domain": [0.158, 3.362], "nice": false, "zero": false}, "axis": null},
                    "y": {"datum": 9.9, "type": "quantitative", "scale": {"domain": [0, 10.33], "reverse": true, "nice": false, "zero": false}, "axis": null},
                    "text": {"field": "ciTxt"}}}
    ]
  }
]
}
